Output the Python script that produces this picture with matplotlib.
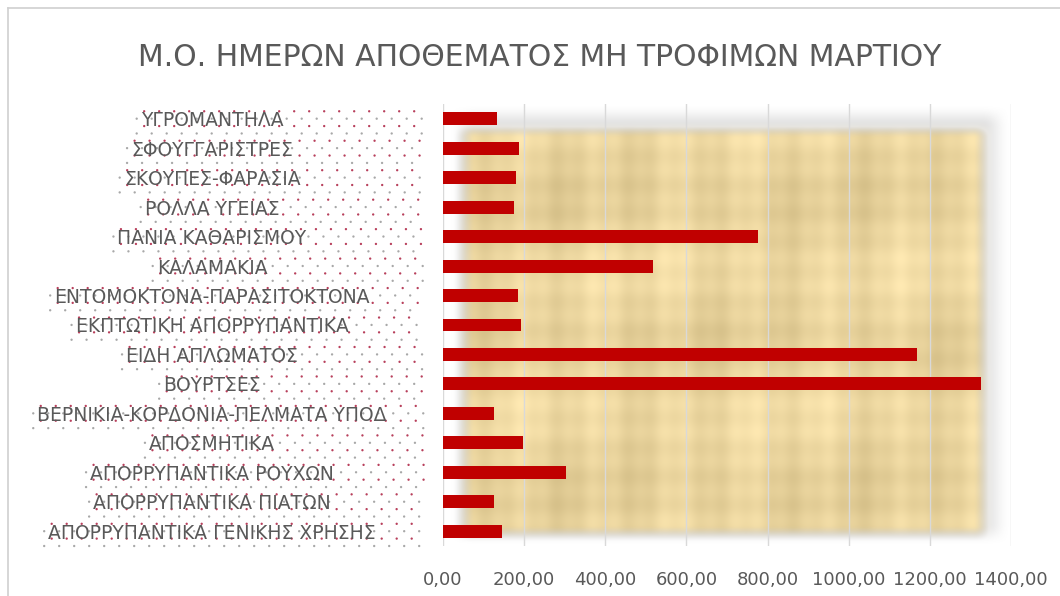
import numpy as np
import matplotlib
matplotlib.use("Agg")
import matplotlib.pyplot as plt
from matplotlib.lines import Line2D

# data (top to bottom as shown)
categories = [
    "ΥΓΡΟΜΑΝΤΗΛΑ",
    "ΣΦΟΥΓΓΑΡΙΣΤΡΕΣ",
    "ΣΚΟΥΠΕΣ-ΦΑΡΑΣΙΑ",
    "ΡΟΛΛΑ ΥΓΕΙΑΣ",
    "ΠΑΝΙΑ ΚΑΘΑΡΙΣΜΟΥ",
    "ΚΑΛΑΜΑΚΙΑ",
    "ΕΝΤΟΜΟΚΤΟΝΑ-ΠΑΡΑΣΙΤΟΚΤΟΝΑ",
    "ΕΚΠΤΩΤΙΚΗ ΑΠΟΡΡΥΠΑΝΤΙΚΑ",
    "ΕΙΔΗ ΑΠΛΩΜΑΤΟΣ",
    "ΒΟΥΡΤΣΕΣ",
    "ΒΕΡΝΙΚΙΑ-ΚΟΡΔΟΝΙΑ-ΠΕΛΜΑΤΑ ΥΠΟΔ",
    "ΑΠΟΣΜΗΤΙΚΑ",
    "ΑΠΟΡΡΥΠΑΝΤΙΚΑ ΡΟΥΧΩΝ",
    "ΑΠΟΡΡΥΠΑΝΤΙΚΑ ΠΙΑΤΩΝ",
    "ΑΠΟΡΡΥΠΑΝΤΙΚΑ ΓΕΝΙΚΗΣ ΧΡΗΣΗΣ",
]
days = [134, 187, 181, 175, 776, 517, 184, 192, 1169, 1327, 125, 196, 302, 125, 145]
xticks = [0, 200, 400, 600, 800, 1000, 1200, 1400]
title = "Μ.Ο. ΗΜΕΡΩΝ ΑΠΟΘΕΜΑΤΟΣ ΜΗ ΤΡΟΦΙΜΩΝ ΜΑΡΤΙΟΥ"

plt.rcParams['font.family'] = ['DejaVu Sans']

W, H = 1060, 596
fig = plt.figure(figsize=(W / 100, H / 100), dpi=100)

# full-figure layer for the dotted label background
bg = fig.add_axes([0, 0, 1, 1], zorder=0)
bg.set_xlim(0, W)
bg.set_ylim(0, H)
bg.axis('off')

ax = fig.add_axes([443 / W, 1 - 546 / H, (1011 - 443) / W, (546 - 104) / H], zorder=1)

# papyrus-like background (smooth, deterministic)
ny, nx = 300, 500
yy, xx = np.mgrid[0:1:ny * 1j, 0:1:nx * 1j]

def soft_box(x0, x1, y0, y1, s):
    def ramp(v):
        v = np.clip(v, 0, 1)
        return v * v * (3 - 2 * v)
    return (ramp((xx - x0) / s) * ramp((x1 - xx) / s) *
            ramp((yy - y0) / s) * ramp((y1 - yy) / s))

shadow = soft_box(0.01, 1.0, 0.0, 1.0, 0.05) * 0.3
paper = soft_box(0.015, 0.975, 0.035, 0.995, 0.04)
fib = (0.012 * np.sin(xx * 150) + 0.012 * np.sin(yy * 95) +
       0.025 * np.sin(xx * 47 + 1.3) + 0.02 * np.sin(yy * 19 + 0.7) +
       0.015 * np.sin(xx * 13 + yy * 9))
base = np.array([0.92, 0.835, 0.62])
img = np.zeros((ny, nx, 4))
for c in range(3):
    papc = np.clip(base[c] + fib, 0, 1)
    img[..., c] = papc * paper + 0.6 * (1 - paper)
img[..., 3] = np.maximum(paper, shadow)
ax.imshow(img, extent=[0, 1, 0, 1], transform=ax.transAxes, origin='upper',
          aspect='auto', zorder=0, interpolation='bilinear')

y = np.arange(len(categories))
ax.barh(y, days, height=0.44, color="#C00000", zorder=3)
ax.set_ylim(len(categories) - 0.5, -0.5)
ax.set_xlim(0, 1400)
ax.set_xticks(xticks)
ax.set_xticklabels([f"{v:.2f}".replace(".", ",") for v in xticks],
                   fontsize=13, color="#595959")
ax.tick_params(axis='x', length=0, pad=18)
ax.set_yticks(y)
ax.set_yticklabels(categories, fontsize=13.5, color="#595959", ha='center')
ax.tick_params(axis='y', length=0, pad=(443 - 212) * 0.72)
ax.grid(axis='x', color="#d9d9d9", linewidth=1, zorder=1)
ax.set_axisbelow(False)
for s in ax.spines.values():
    s.set_visible(False)
ax.patch.set_alpha(0)

fig.text(540 / W, 1 - 57 / H, title, ha='center', va='center',
         fontsize=21.5, color="#595959")

# dotted fill behind each label, from the label start to the plot edge
fig.canvas.draw()
renderer = fig.canvas.get_renderer()
row_h = (546 - 104) / len(categories)
gx, gy, gc = [], [], []
for lab in ax.get_yticklabels():
    bb = lab.get_window_extent(renderer)
    yc = (bb.y0 + bb.y1) / 2
    for k, yd in enumerate(np.arange(yc - row_h / 2 + 2, yc + row_h / 2, 7.4)):
        off = 7.5 if k % 2 else 0
        xs = np.arange(bb.x0 - 4 + off, 424, 15)
        gx.extend(xs)
        gy.extend([yd] * len(xs))
        gc.extend(["#b8405c" if k % 2 else "#a8a8a8"] * len(xs))
bg.scatter(gx, gy, s=2.8, c=gc, linewidths=0)

# chart border
fig.add_artist(Line2D([8 / W, 8 / W], [0, 1 - 8 / H], color="#d0d0d0", lw=1.2))
fig.add_artist(Line2D([8 / W, 1], [1 - 8 / H, 1 - 8 / H], color="#d0d0d0", lw=1.2))

fig.savefig("out.png", dpi=100)
